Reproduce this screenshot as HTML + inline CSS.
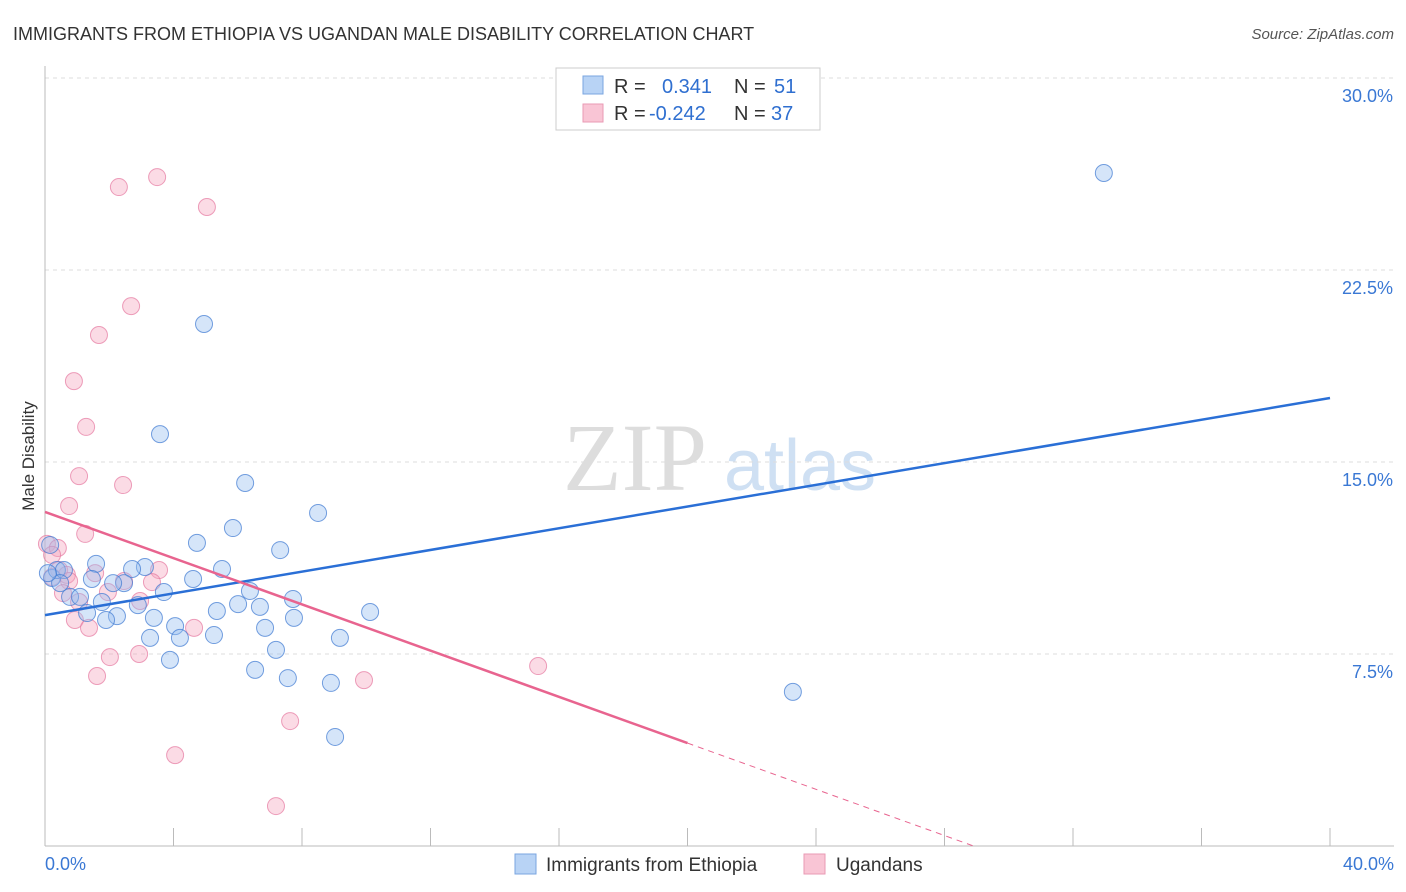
<!DOCTYPE html>
<html><head><meta charset="utf-8"><style>
body{margin:0;background:#fff;font-family:"Liberation Sans",sans-serif;}
svg{display:block}
</style></head><body>
<svg id="c" width="1406" height="892">
<text x="13" y="40" font-size="18" fill="#333">IMMIGRANTS FROM ETHIOPIA VS UGANDAN MALE DISABILITY CORRELATION CHART</text>
<text x="1394" y="39" font-size="15" fill="#555" font-style="italic" text-anchor="end">Source: ZipAtlas.com</text>
<text x="0" y="0" transform="translate(34,456) rotate(-90)" font-size="17" fill="#333" text-anchor="middle">Male Disability</text>
<g>
<text x="635" y="490" font-family="Liberation Serif,serif" font-size="96" fill="#ddd" text-anchor="middle">ZIP</text>
<text x="800" y="490" font-size="72" fill="#cfe0f3" text-anchor="middle">atlas</text>
</g>
<g id="grid"></g><g id="axes"></g><g id="pts"></g><g id="lines"></g>
<g>
<rect x="556" y="68" width="264" height="62" fill="#fff" stroke="#ccc"/>
<rect x="583" y="76" width="20" height="18" fill="#b8d3f5" stroke="#7aa6e0"/>
<rect x="583" y="104" width="20" height="18" fill="#f9c5d5" stroke="#e99ab4"/>
<text x="614" y="93" font-size="20" fill="#333">R = </text><text x="662" y="93" font-size="20" fill="#2f6fd0">0.341</text>
<text x="734" y="93" font-size="20" fill="#333">N = </text><text x="774" y="93" font-size="20" fill="#2f6fd0">51</text>
<text x="614" y="120" font-size="20" fill="#333">R = </text><text x="649" y="120" font-size="20" fill="#2f6fd0">-0.242</text>
<text x="734" y="120" font-size="20" fill="#333">N = </text><text x="771" y="120" font-size="20" fill="#2f6fd0">37</text>
</g>
<g>
<rect x="515" y="854" width="21" height="20" fill="#b8d3f5" stroke="#7aa6e0"/>
<text x="546" y="871" font-size="19" fill="#333">Immigrants from Ethiopia</text>
<rect x="804" y="854" width="21" height="20" fill="#f9c5d5" stroke="#e99ab4"/>
<text x="836" y="871" font-size="19" fill="#333">Ugandans</text>
</g>
</svg>
<script>
const blueX=[32.96,4.95,3.58,6.23,8.50,5.85,4.73,7.32,0.16,1.59,5.51,3.11,2.71,0.22,1.46,2.46,2.12,4.61,6.38,3.70,0.78,1.09,1.77,2.89,7.72,5.35,6.01,6.69,10.12,1.31,2.24,1.90,3.39,7.75,4.05,6.85,3.27,4.20,5.26,9.18,7.19,3.89,6.54,7.56,8.90,23.28,9.03,0.37,0.59,0.47,0.09];
const blueY=[26.29,20.39,16.09,14.18,13.01,12.42,11.84,11.56,11.76,11.02,10.82,10.90,10.82,10.47,10.43,10.27,10.27,10.43,9.96,9.92,9.73,9.73,9.53,9.41,9.65,9.18,9.45,9.34,9.14,9.10,8.98,8.83,8.91,8.91,8.59,8.52,8.13,8.13,8.24,8.13,7.66,7.27,6.88,6.56,6.37,6.02,4.26,10.78,10.78,10.27,10.66];
const pinkX=[3.49,2.30,5.04,2.68,1.68,0.90,1.28,1.06,2.43,0.75,1.25,0.06,0.40,0.22,0.44,0.68,3.55,1.56,0.22,0.75,2.46,3.33,0.56,1.96,1.06,2.96,0.93,1.37,4.64,2.02,2.93,15.35,1.62,9.93,7.63,4.05,7.19];
const pinkY=[26.13,25.74,24.96,21.09,19.96,18.16,16.37,14.45,14.10,13.28,12.19,11.80,11.64,11.37,10.78,10.59,10.78,10.66,10.51,10.35,10.35,10.31,9.88,9.92,9.53,9.57,8.83,8.52,8.52,7.38,7.50,7.03,6.64,6.48,4.88,3.55,1.56];
const yTicks=[7.5,15,22.5,30];
const yTickLabels=["7.5%","15.0%","22.5%","30.0%"];
const xTicks=[0,4,8,12,16,20,24,28,32,36,40];
const blueTrend=[9.02,17.5];   // y at x=0, x=40
const pinkTrend=[13.05,4.02,0.0]; // y at 0, y at 20 (solid end), dashed to y=0
const NS="http://www.w3.org/2000/svg";
const X=v=>45+v/40*1285, Y=v=>846-v/7.5*192;
function mk(p,t,a){const e=document.createElementNS(NS,t);for(const k in a)e.setAttribute(k,a[k]);document.getElementById(p).appendChild(e);return e;}
yTicks.forEach((t,i)=>{
 const g=mk('grid','line',{x1:45,x2:1394,y1:Y(t),y2:Y(t),stroke:'#ddd','stroke-dasharray':'4,4'});
 
 
 const l=mk('axes','text',{x:1393,y:Y(t)+24,'font-size':18,fill:'#3a78d4','text-anchor':'end'});l.textContent=yTickLabels[i];
 
 
});
const ax=mk('axes','line',{x1:45,x2:45,y1:66,y2:846,stroke:'#bbb'});


const bx=mk('axes','line',{x1:45,x2:1394,y1:846,y2:846,stroke:'#bbb'});


xTicks.forEach(t=>{const e=mk('axes','line',{x1:X(t),x2:X(t),y1:828,y2:846,stroke:'#bbb'});
 
 });
const xl0=mk('axes','text',{x:45,y:870,'font-size':18,fill:'#3a78d4'});xl0.textContent='0.0%';


const xl1=mk('axes','text',{x:1394,y:870,'font-size':18,fill:'#3a78d4','text-anchor':'end'});xl1.textContent='40.0%';


pinkX.forEach((v,i)=>{const c=mk('pts','circle',{cx:X(v),cy:Y(pinkY[i]),r:8.5,fill:'rgba(245,165,190,0.4)',stroke:'rgba(230,120,160,0.7)'});
 
 });
blueX.forEach((v,i)=>{const c=mk('pts','circle',{cx:X(v),cy:Y(blueY[i]),r:8.5,fill:'rgba(150,190,240,0.4)',stroke:'rgba(60,120,210,0.7)'});
 
 });
const bl=mk('lines','line',{x1:X(0),y1:Y(blueTrend[0]),x2:X(40),y2:Y(blueTrend[1]),stroke:'#2a6fd6','stroke-width':2.5});


const slope=(pinkTrend[1]-pinkTrend[0])/20, xEnd=(pinkTrend[2]-pinkTrend[0])/slope;
const pl=mk('lines','line',{x1:X(0),y1:Y(pinkTrend[0]),x2:X(20),y2:Y(pinkTrend[1]),stroke:'#e8648f','stroke-width':2.5});


const pd=mk('lines','line',{x1:X(20),y1:Y(pinkTrend[1]),x2:X(xEnd),y2:Y(pinkTrend[2]),stroke:'#e8648f','stroke-width':1,'stroke-dasharray':'6,5'});


</script>
</body></html>
